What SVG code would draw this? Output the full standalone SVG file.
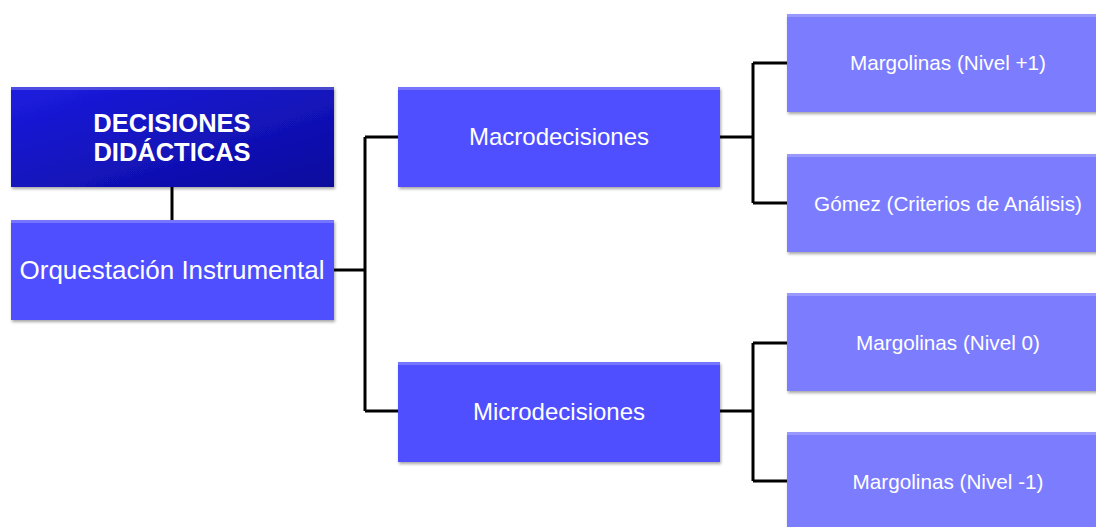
<svg xmlns="http://www.w3.org/2000/svg" width="1096" height="527" viewBox="0 0 1096 527">
<defs>
<linearGradient id="dark" x1="0" y1="0" x2="1" y2="1">
<stop offset="0" stop-color="#1c1ce0"/>
<stop offset="1" stop-color="#0b0b9c"/>
</linearGradient>
<filter id="sh" x="-5%" y="-10%" width="110%" height="125%">
<feDropShadow dx="1" dy="2" stdDeviation="1.5" flood-color="#000" flood-opacity="0.35"/>
</filter>
</defs>
<style>
.box{filter:url(#sh);}
.mid{fill:#4f4fff;}
.lt{fill:#7b7bff;}
.hl{fill:#ffffff;opacity:0.22;}
.tx{font-family:"Liberation Sans",Arial,sans-serif;fill:#ffffff;text-anchor:middle;}
.con{fill:none;stroke:#000;stroke-width:3;}
</style>
<g id="connectors">
<path class="con" d="M172 187V220"/>
<path class="con" d="M334 270H365M365 137V411M365 137H398M365 411H398"/>
<path class="con" d="M720 137H753M753 63V203M753 63H787M753 203H787"/>
<path class="con" d="M720 411H753M753 343V481M753 343H787M753 481H787"/>
</g>
<g id="decisiones">
<rect class="box" x="11" y="87" width="323" height="100" fill="url(#dark)"/>
<rect class="hl" x="11" y="87" width="323" height="3"/>
<text class="tx" x="172" y="132" font-size="25.5" font-weight="bold">DECISIONES</text>
<text class="tx" x="172" y="161" font-size="25.5" font-weight="bold">DIDÁCTICAS</text>
</g>
<g id="orquestacion">
<rect class="box mid" x="11" y="220" width="323" height="100"/>
<rect class="hl" x="11" y="220" width="323" height="3"/>
<text class="tx" x="172" y="279" font-size="26">Orquestación Instrumental</text>
</g>
<g id="macro">
<rect class="box mid" x="398" y="87" width="322" height="100"/>
<rect class="hl" x="398" y="87" width="322" height="3"/>
<text class="tx" x="559" y="145" font-size="24">Macrodecisiones</text>
</g>
<g id="micro">
<rect class="box mid" x="398" y="362" width="322" height="100"/>
<rect class="hl" x="398" y="362" width="322" height="3"/>
<text class="tx" x="559" y="420" font-size="24">Microdecisiones</text>
</g>
<g id="nivel1">
<rect class="box lt" x="787" y="14" width="315" height="98"/>
<rect class="hl" x="787" y="14" width="315" height="3"/>
<text class="tx" x="948" y="70" font-size="20.7">Margolinas (Nivel +1)</text>
</g>
<g id="gomez">
<rect class="box lt" x="787" y="154" width="315" height="98"/>
<rect class="hl" x="787" y="154" width="315" height="3"/>
<text class="tx" x="948" y="211" font-size="20.7">Gómez (Criterios de Análisis)</text>
</g>
<g id="nivel0">
<rect class="box lt" x="787" y="293" width="315" height="98"/>
<rect class="hl" x="787" y="293" width="315" height="3"/>
<text class="tx" x="948" y="350" font-size="20.7">Margolinas (Nivel 0)</text>
</g>
<g id="nivelm1">
<rect class="box lt" x="787" y="432" width="315" height="100"/>
<rect class="hl" x="787" y="432" width="315" height="3"/>
<text class="tx" x="948" y="489" font-size="20.7">Margolinas (Nivel -1)</text>
</g>
</svg>
